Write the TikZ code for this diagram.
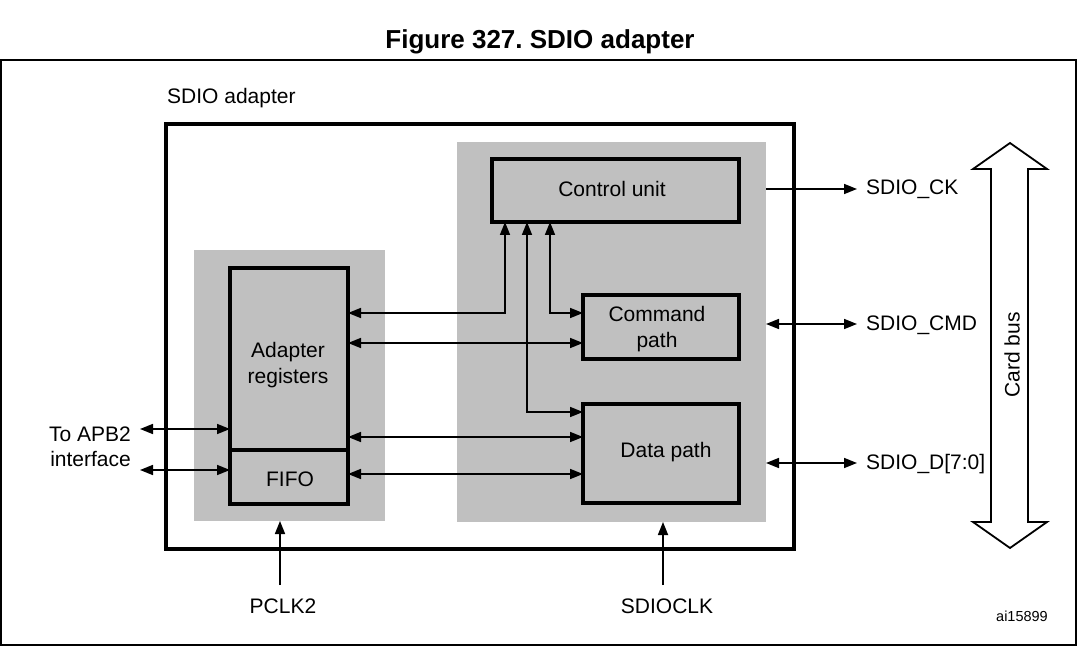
\documentclass[tikz,border=0pt]{standalone}
\usepackage{fontspec}
\setmainfont{Liberation Sans}
\usetikzlibrary{arrows.meta}
\definecolor{grayfill}{RGB}{192,192,192}
\frenchspacing
\begin{document}
\begin{tikzpicture}[x=1pt,y=-1pt,
  txt/.style={font=\fontsize{21}{25}\selectfont, inner sep=0, align=center},
  region/.style={fill=grayfill, draw=none, inner sep=0, outer sep=0, anchor=north west},
  blk/.style={draw, line width=3.6pt, fill=grayfill, inner sep=0, outer sep=0, anchor=north west, font=\fontsize{21}{25}\selectfont, align=center},
  ar/.style={line width=1.7pt, -{Triangle[length=13pt,width=10pt]}},
  dar/.style={line width=1.7pt, {Triangle[length=13pt,width=10pt]}-{Triangle[length=13pt,width=10pt]}},
]
\useasboundingbox (0,0) rectangle (1079,652);
\node[font=\bfseries\fontsize{26}{30}\selectfont, inner sep=0] (title) at (540,42) {Figure 327. SDIO adapter};
\draw[line width=2pt] (1,60) rectangle (1076,645);
\node[txt, anchor=west] (lbl) at (167,98) {SDIO adapter};
% main box
\node[draw, line width=3.6pt, inner sep=0, outer sep=0, anchor=north west, minimum width=628pt, minimum height=425pt] (main) at (166,124) {};
% gray regions
\node[region, minimum width=191pt, minimum height=271pt] (lgray) at (194,250) {};
\node[region, minimum width=309pt, minimum height=380pt] (rgray) at (457,142) {};
% blocks
\node[blk, minimum width=247pt, minimum height=63pt] (cu) at (492,159) {};
\node[txt] (cut) at (612,189) {Control unit};
\node[blk, minimum width=156pt, minimum height=64pt] (cmd) at (583,295) {};
\node[txt] (cmdt) at (657,329) {Command\\[1pt]path};
\node[blk, minimum width=156pt, minimum height=99pt] (dp) at (583,404) {};
\node[txt] (dpt) at (666,452) {Data path};
\node[blk, minimum width=118pt, minimum height=182pt] (reg) at (230,268) {};
\node[txt] (regt) at (288,365) {Adapter\\[1pt]registers};
\node[blk, minimum width=118pt, minimum height=54pt] (fifo) at (230,450) {};
\node[txt] (fifot) at (290,479) {FIFO};
% internal connectors
\coordinate (c1) at (505,313);
\coordinate (c2) at (527,412);
\coordinate (c3) at (550,313);
\coordinate (c4) at (0,343);
\coordinate (c5) at (0,437);
\coordinate (c6) at (0,474);
\draw[dar] (reg.east |- c1) -| (cu.south -| c1);
\draw[dar] (cu.south -| c3) |- (cmd.west |- c3);
\draw[dar] (cu.south -| c2) |- (dp.west |- c2);
\draw[dar] (reg.east |- c4) -- (cmd.west |- c4);
\draw[dar] (reg.east |- c5) -- (dp.west |- c5);
\draw[dar] (fifo.east |- c6) -- (dp.west |- c6);
% left interface
\node[txt, anchor=east, align=right] (apb) at (131,447) {To APB2\\interface};
\coordinate (a1) at (140,429);
\coordinate (a2) at (140,470);
\draw[dar] (a1) -- (reg.west |- a1);
\draw[dar] (a2) -- (fifo.west |- a2);
% right signals
\node[txt, anchor=west] (ck) at (866,189) {SDIO\_CK};
\node[txt, anchor=west] (cmdl) at (866,325) {SDIO\_CMD};
\node[txt, anchor=west] (dl) at (866,464) {SDIO\_D[7:0]};
\coordinate (r1) at (857,189);
\coordinate (r2) at (857,324);
\coordinate (r3) at (857,463);
\draw[ar] (rgray.east |- r1) -- (r1);
\draw[dar] (rgray.east |- r2) -- (r2);
\draw[dar] (rgray.east |- r3) -- (r3);
% card bus
\draw[line width=1.8pt, fill=white] (1010,143) -- (1047,169) -- (1028,169) -- (1028,522) -- (1047,522) -- (1010,548) -- (973,522) -- (991,522) -- (991,169) -- (973,169) -- cycle;
\node[txt, rotate=90] (cb) at (1012,355) {Card bus};
% clocks
\node[txt] (pclk) at (283,606) {PCLK2};
\node[txt] (sclk) at (667,606) {SDIOCLK};
\coordinate (p0) at (280,585);
\coordinate (s0) at (663,585);
\draw[ar] (p0) -- (lgray.south -| p0);
\draw[ar] (s0) -- (rgray.south -| s0);
\node[font=\fontsize{14.5}{16}\selectfont, inner sep=0] (ai) at (1022,616) {ai15899};
\end{tikzpicture}
\end{document}
